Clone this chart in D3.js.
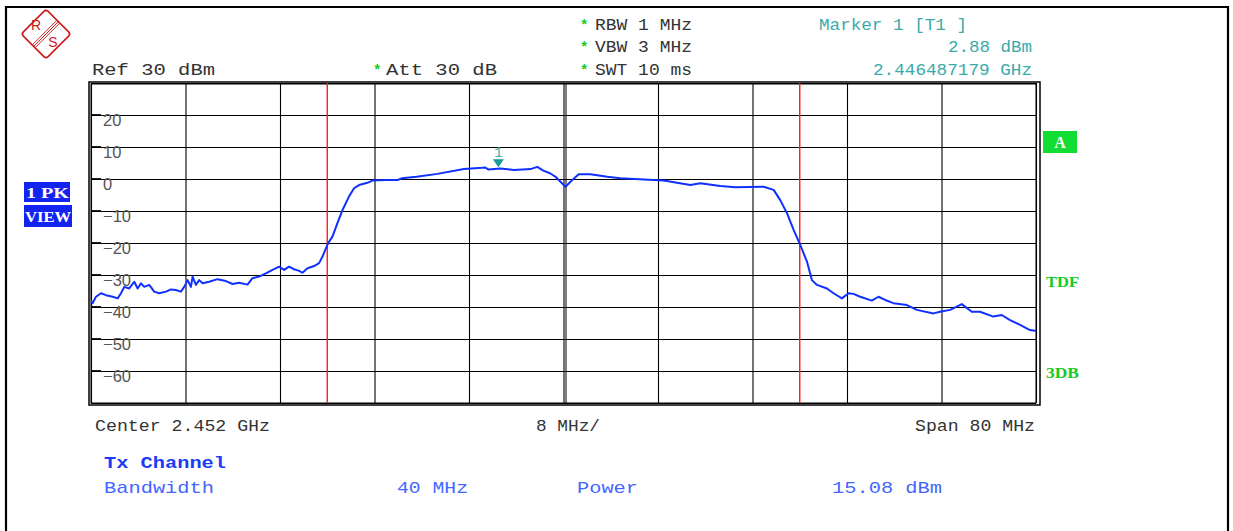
<!DOCTYPE html>
<html><head><meta charset="utf-8">
<script src="https://cdn.jsdelivr.net/npm/d3@7"></script>
<style>
html,body{margin:0;padding:0;background:#fff;}
svg{display:block;}
</style></head>
<body>
<svg id="c" width="1233" height="531"></svg>
<script>
// ---- data ----
const centerGHz = 2.452;
const spanMHz = 80;
const freqOffsetMHz = [-40.0,-39.86,-39.58,-39.15,-38.73,-38.16,-37.74,-37.46,-37.18,-36.76,-36.34,-36.05,-35.77,-35.49,-35.07,-34.65,-34.22,-33.66,-33.23,-32.81,-32.39,-32.11,-31.82,-31.54,-31.40,-31.12,-30.84,-30.55,-30.00,-29.29,-28.58,-28.02,-27.46,-26.75,-26.33,-25.77,-25.20,-24.63,-24.08,-23.65,-23.23,-22.81,-22.38,-22.10,-21.67,-21.12,-20.69,-20.41,-19.93,-19.56,-19.14,-18.71,-18.16,-17.73,-17.31,-16.60,-16.18,-15.05,-14.04,-13.70,-12.43,-10.68,-8.43,-6.88,-6.65,-6.37,-5.33,-4.20,-2.79,-2.22,-1.71,-1.14,-0.68,0.17,0.74,1.29,2.28,3.70,4.82,7.64,8.48,9.61,10.74,11.58,13.28,14.55,16.94,17.79,18.35,18.92,19.48,20.04,20.61,21.03,21.46,22.30,22.86,23.57,24.13,24.55,25.12,26.10,26.66,27.23,27.93,29.07,29.91,31.32,31.88,32.73,33.72,34.56,35.26,36.39,37.10,37.80,38.65,39.49,39.92,40.0];
const levelDbm = [-38.0,-38.8,-36.8,-35.7,-36.3,-36.8,-37.3,-35.7,-33.7,-34.2,-32.1,-34.2,-32.6,-33.7,-33.1,-35.2,-35.7,-35.2,-34.5,-34.7,-35.2,-33.7,-31.6,-33.7,-30.5,-33.1,-31.6,-32.6,-32.1,-31.3,-31.9,-32.8,-32.4,-33.0,-31.0,-30.5,-29.5,-28.4,-27.4,-28.4,-27.4,-28.2,-28.7,-29.3,-27.9,-27.2,-26.3,-24.3,-20.1,-18.0,-13.8,-9.7,-5.5,-2.9,-1.9,-1.2,-0.5,-0.3,-0.3,0.2,0.7,1.6,3.1,3.5,3.6,3.0,3.3,2.8,3.1,3.8,2.6,1.8,0.7,-2.4,-0.3,1.5,1.5,0.7,0.2,-0.3,-0.5,-1.2,-1.9,-1.3,-2.2,-2.6,-2.4,-3.4,-6.6,-10.7,-15.9,-20.6,-25.8,-31.6,-33.1,-34.2,-35.7,-37.3,-35.7,-35.9,-36.8,-38.0,-36.8,-37.8,-38.8,-39.4,-40.9,-42.0,-41.5,-40.9,-39.1,-41.5,-41.5,-43.0,-42.5,-44.1,-45.6,-47.2,-47.4,-47.5];
const yTickValues = [30,20,10,0,-10,-20,-30,-40,-50,-60,-70];
const yTickLabels = ["20","10","0","\u221210","\u221220","\u221230","\u221240","\u221250","\u221260"];
const xTickValues = [-40,-32,-24,-16,-8,0,8,16,24,32,40];
const channelEdgesMHz = [-20,20];
const markerGHz = 2.446487179;
const markerDbm = 2.88;

// ---- scales ----
const x = d3.scaleLinear().domain([-spanMHz/2, spanMHz/2]).range([91,1036]);
const y = d3.scaleLinear().domain([-70,30]).range([403,83]);

const svg = d3.select("#c");
const MONO = "'Liberation Mono', 'DejaVu Sans Mono', monospace";
const SANS = "'Liberation Sans', Arial, sans-serif";
const SERIF = "'Liberation Serif', serif";

function txt(xp, yp, s, o){
  o = o || {};
  const t = svg.append("text").attr("x", xp).attr("y", yp).text(s)
    .attr("font-family", o.family || MONO)
    .attr("font-size", o.size || 15)
    .attr("fill", o.color || "#333")
    .attr("font-weight", o.weight || "normal")
    .attr("text-anchor", o.anchor || "start");
  if (o.len) t.attr("textLength", o.len).attr("lengthAdjust", o.adjust || "spacingAndGlyphs");
  return t;
}

// outer frame
svg.append("path").attr("d","M6,531 V7 H1228 V531").attr("fill","none").attr("stroke","#000").attr("stroke-width",2.2);

// R&S logo
const logo = svg.append("g").attr("transform","translate(46,34) rotate(45)");
logo.append("rect").attr("x",-17.5).attr("y",-17.5).attr("width",35).attr("height",35).attr("rx",3)
  .attr("fill","#fff").attr("stroke","#cc1a1a").attr("stroke-width",1.6);
[-2,0,2].forEach(d=>logo.append("line").attr("x1",d).attr("x2",d).attr("y1",-17.5).attr("y2",17.5).attr("stroke","#cc1a1a").attr("stroke-width",0.9));
txt(36,30,"R",{family:SANS,size:14,color:"#cc1a1a",anchor:"middle"});
txt(53,47,"S",{family:SANS,size:14,color:"#cc1a1a",anchor:"middle"});

// header texts
const GRAY = "#333";
const TEAL = "#3aaaaa";
const GREEN = "#11cc22";
txt(92,75,"Ref  30 dBm",{len:123,color:GRAY,size:16});
txt(373,75,"*",{color:GREEN,weight:"bold",size:14});
txt(386,75,"Att  30 dB",{len:111,color:GRAY,size:16});
[["RBW 1 MHz",30],["VBW 3 MHz",52],["SWT 10 ms",75]].forEach(([s,yy])=>{
  txt(580,yy,"*",{color:GREEN,weight:"bold",size:14});
  txt(595,yy,s,{len:97,color:GRAY,size:16});
});
txt(819,30,"Marker 1 [T1 ]",{len:148,color:TEAL,size:16});
txt(948,52,"2.88 dBm",{len:84,color:TEAL,size:16});
txt(873,75,"2.446487179 GHz",{len:159,color:TEAL,size:16});

// plot frame
svg.append("rect").attr("x",89).attr("y",82).attr("width",951).attr("height",323)
  .attr("fill","none").attr("stroke","#000").attr("stroke-width",1.5);
svg.append("rect").attr("x",91).attr("y",84).attr("width",945).attr("height",319)
  .attr("fill","#fff").attr("stroke","#000").attr("stroke-width",1);

// gridlines via axes
const gy = svg.append("g").attr("transform","translate(91,0)")
  .call(d3.axisRight(y).tickValues(yTickValues).tickSize(945).tickFormat(""));
gy.select(".domain").remove();
gy.selectAll("line").attr("stroke","#000").attr("stroke-width",1.2);
const gx = svg.append("g").attr("transform","translate(0,83)")
  .call(d3.axisBottom(x).tickValues(xTickValues).tickSize(320).tickFormat(""));
gx.select(".domain").remove();
gx.selectAll("line").attr("stroke","#000").attr("stroke-width",1.1);
// doubled centre line
svg.append("line").attr("x1",x(0)+2.5).attr("x2",x(0)+2.5).attr("y1",83).attr("y2",403).attr("stroke","#000").attr("stroke-width",1);
// left tick stubs
yTickValues.slice(1,-1).forEach(v=>{
  svg.append("line").attr("x1",91).attr("x2",101).attr("y1",y(v)).attr("y2",y(v)).attr("stroke","#000").attr("stroke-width",1.8);
});

// y labels
yTickLabels.forEach((s,i)=>{
  const v = yTickValues[i+1];
  txt(103, y(v)+11, s, {family:SANS,size:16.5,color:"#555"});
});

// channel edge lines
channelEdgesMHz.forEach(f=>{
  svg.append("line").attr("x1",x(f)).attr("x2",x(f)).attr("y1",83).attr("y2",403)
    .attr("stroke","#ff1a1a").attr("stroke-width",1.4);
});

// trace
svg.append("clipPath").attr("id","clip").append("rect").attr("x",91).attr("y",84).attr("width",945).attr("height",319);
const pts = freqOffsetMHz.map((f,i)=>[f,levelDbm[i]]);
svg.append("path").attr("clip-path","url(#clip)").datum(pts)
  .attr("d", d3.line().x(d=>x(d[0])).y(d=>y(d[1])))
  .attr("fill","none").attr("stroke","#1030ff").attr("stroke-width",2).attr("stroke-linejoin","round");

// marker
const mx = x((markerGHz-centerGHz)*1000);
const my = y(markerDbm)-2.5;
svg.append("path").attr("d",`M${mx-5.5},${my-8} L${mx+5.5},${my-8} L${mx},${my} Z`).attr("fill","#1a9a9a");
txt(mx, my-10, "1", {family:MONO,size:14,color:TEAL,anchor:"middle"});

// left labels
svg.append("rect").attr("x",24).attr("y",182).attr("width",46).attr("height",20).attr("fill","#1424f0");
svg.append("rect").attr("x",24).attr("y",205).attr("width",48).attr("height",22).attr("fill","#1424f0");
txt(26,198,"1 PK",{family:SERIF,size:15,weight:"bold",color:"#fff",len:43});
txt(25,222,"VIEW",{family:SERIF,size:15,weight:"bold",color:"#fff",len:46});

// right labels
svg.append("rect").attr("x",1043).attr("y",131).attr("width",34).attr("height",22).attr("fill","#11dd33");
txt(1060,148,"A",{family:SERIF,size:16,weight:"bold",color:"#fff",anchor:"middle"});
txt(1046,287,"TDF",{family:SERIF,size:14,weight:"bold",color:GREEN,len:33});
txt(1046,378,"3DB",{family:SERIF,size:14,weight:"bold",color:GREEN,len:33});

// bottom texts
txt(95,431,"Center 2.452 GHz",{len:175,color:GRAY,size:16});
txt(536,431,"8 MHz/",{len:64,color:GRAY,size:16});
txt(915,431,"Span 80 MHz",{len:120,color:GRAY,size:16});
const BLUE = "#1a3cf5", LBLUE = "#4466ff";
txt(104,468,"Tx Channel",{len:122,color:BLUE,weight:"bold",size:17});
txt(104,493,"Bandwidth",{len:110,color:LBLUE,size:17});
txt(397,493,"40 MHz",{len:71,color:LBLUE,size:17});
txt(577,493,"Power",{len:61,color:LBLUE,size:17});
txt(832,493,"15.08 dBm",{len:110,color:LBLUE,size:17});
</script>
</body></html>
